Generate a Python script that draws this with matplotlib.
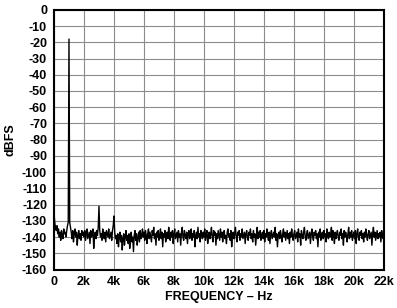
import matplotlib
matplotlib.use("Agg")
import matplotlib.pyplot as plt
import numpy as np

plt.rcParams['font.family'] = ['Liberation Sans', 'DejaVu Sans']
plt.rcParams['font.weight'] = 'bold'

# FFT bins, 50 Hz apart, 0 .. 22050 Hz (dBFS)
step_hz = 50
spectrum_db = [
    -125, -131, -134, -136, -133, -138, -135, -140, -137, -142, -136, -139, -141, -135, -138, -137, -140, -136, -133, -131,
    -18, -131, -134, -137, -141, -136, -143, -138, -135, -140, -137, -145, -139, -136, -141, -138, -142, -136, -139, -137,
    -140, -136, -142, -138, -135, -141, -139, -137, -144, -136, -140, -138, -135, -147, -139, -137, -141, -136, -139, -134,
    -121, -136, -140, -138, -142, -135, -139, -141, -137, -143, -136, -138, -140, -135, -141, -139, -137, -142, -136, -133,
    -127, -137, -141, -139, -144, -138, -146, -140, -137, -143, -139, -148, -141, -138, -145, -140, -136, -142, -139, -144,
    -138, -147, -141, -137, -143, -140, -149, -139, -136, -142, -138, -145, -140, -137, -143, -136, -141, -139, -135, -140,
    -137, -142, -136, -139, -144, -138, -135, -141, -137, -140, -143, -136, -139, -134, -141, -138, -145, -137, -140, -136,
    -142, -139, -135, -141, -137, -146, -138, -140, -136, -143, -139, -137, -141, -134, -139, -142, -137, -140, -136, -144,
    -138, -135, -141, -139, -137, -143, -136, -140, -138, -145, -137, -134, -140, -142, -136, -139, -141, -137, -144, -138,
    -136, -141, -139, -135, -142, -138, -140, -136, -146, -139, -137, -141, -134, -140, -138, -143, -136, -139, -141, -137,
    -140, -135, -142, -138, -136, -144, -139, -137, -141, -138, -134, -140, -143, -136, -139, -137, -145, -138, -141, -136,
    -139, -142, -135, -140, -137, -143, -138, -136, -141, -139, -144, -137, -135, -140, -138, -142, -136, -146, -139, -137,
    -141, -138, -134, -140, -143, -137, -139, -136, -142, -138, -140, -135, -141, -139, -137, -144, -138, -136, -140, -142,
    -137, -139, -135, -141, -138, -143, -136, -140, -138, -145, -139, -134, -141, -137, -140, -136, -142, -139, -137, -141,
    -136, -143, -138, -140, -135, -139, -142, -137, -144, -138, -136, -141, -139, -137, -140, -134, -142, -138, -146, -139,
    -137, -141, -136, -139, -143, -138, -135, -140, -137, -142, -139, -136, -141, -138, -144, -137, -140, -135, -139, -142,
    -138, -136, -141, -139, -137, -143, -135, -140, -138, -145, -136, -139, -141, -137, -134, -140, -142, -138, -136, -141,
    -139, -137, -144, -138, -135, -140, -142, -137, -139, -136, -141, -138, -146, -137, -140, -135, -142, -139, -137, -141,
    -136, -140, -138, -143, -135, -139, -141, -137, -140, -138, -134, -142, -136, -139, -144, -137, -141, -138, -136, -140,
    -142, -137, -139, -135, -141, -138, -145, -136, -140, -137, -139, -143, -138, -134, -141, -137, -140, -136, -142, -139,
    -137, -141, -136, -144, -138, -135, -140, -142, -137, -139, -136, -141, -138, -143, -137, -140, -135, -139, -142, -138,
    -136, -141, -139, -137, -145, -138, -134, -140, -137, -142, -139, -136, -141, -138, -140, -137, -143, -136, -139, -141,
    -138, -137,
]
freqs = np.arange(len(spectrum_db)) * step_hz

x_ticks = list(range(0, 22001, 2000))
x_labels = ['0'] + ['%dk' % (f // 1000) for f in x_ticks[1:]]
y_ticks = list(range(-160, 1, 10))

fig = plt.figure(figsize=(3.97, 3.08), dpi=100)
ax = fig.add_axes([0.136, 0.125, 0.831, 0.843])

ax.plot(freqs, spectrum_db, color='black', linewidth=1.0)

ax.set_xlim(0, 22000)
ax.set_ylim(-160, 0)
ax.set_xticks(x_ticks)
ax.set_xticklabels(x_labels)
ax.set_yticks(y_ticks)
ax.set_yticklabels([str(v) for v in y_ticks])
ax.tick_params(length=0, labelsize=9, pad=5)
ax.grid(True, color='#8c8c8c', linewidth=0.8)
ax.set_axisbelow(True)
for sp in ax.spines.values():
    sp.set_linewidth(1.5)

ax.set_xlabel('FREQUENCY – Hz', fontsize=9, fontweight='bold', labelpad=2)
ax.set_ylabel('dBFS', fontsize=9, fontweight='bold', labelpad=4)

fig.savefig('out.png', dpi=100)
